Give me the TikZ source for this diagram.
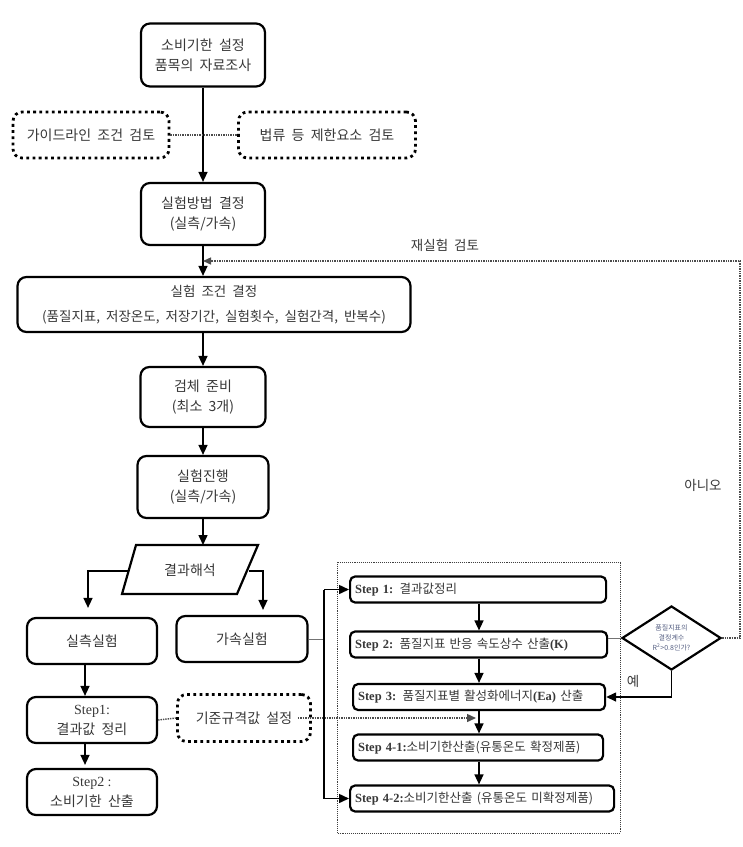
\documentclass[tikz,border=0pt]{standalone}
\usepackage{fontspec}
\setmainfont[WordSpace=2]{Noto Sans CJK KR}
\newfontfamily\latin{Liberation Serif}
\usetikzlibrary{arrows.meta,shapes.geometric,positioning}

\definecolor{txt}{RGB}{55,55,55}
\definecolor{diatxt}{RGB}{85,95,130}

\tikzset{
  box/.style={draw, line width=2.2pt, rounded corners=9pt, align=center, inner sep=0pt,
    text=txt, font=\fontsize{14}{20}\selectfont},
  notebox/.style={draw, line width=2.8pt, dash pattern=on 2.8pt off 3.4pt, rounded corners=9pt,
    inner sep=0pt, text=txt, font=\fontsize{14}{20}\selectfont},
  stepbox/.style={draw, line width=2.2pt, rounded corners=5pt, anchor=west, align=left,
    inner xsep=5pt, inner ysep=0pt, minimum height=26pt, text=txt, font=\fontsize{12.5}{14}\selectfont},
  lbl/.style={text=txt, font=\fontsize{13.5}{16}\selectfont},
  arr/.style={-{Triangle[length=10pt,width=9pt]}, line width=1.5pt},
  thinline/.style={line width=0.8pt, black!55},
  dots/.style={densely dotted, line width=1.4pt, black!70},
}

\begin{document}
\begin{tikzpicture}[x=1pt,y=-1pt]
\useasboundingbox (0,0) rectangle (743,847);

% main column
\node[box, minimum width=124pt, minimum height=63pt] (survey) at (203,55) {소비기한 설정\\품목의 자료조사};
\node[notebox, minimum width=156pt, minimum height=46pt] (guide) at (91,135) {가이드라인 조건 검토};
\node[notebox, minimum width=177pt, minimum height=46pt] (law) at (327,135) {법류 등 제한요소 검토};
\node[box, minimum width=124pt, minimum height=62pt] (method) at (203,214) {실험방법 결정\\(실측/가속)};
\node[box, minimum width=393pt, minimum height=55pt, font=\fontsize{13.5}{25}\selectfont] (cond) at (214,304.5)
  {실험 조건 결정\\(품질지표, 저장온도, 저장기간, 실험횟수, 실험간격, 반복수)};
\node[box, minimum width=125pt, minimum height=60pt] (sample) at (203,397) {검체 준비\\(최소 3개)};
\node[box, minimum width=131pt, minimum height=62pt] (run) at (203,487) {실험진행\\(실측/가속)};

% result analysis (parallelogram)
\draw[line width=2.2pt, line join=miter] (136,545) -- (258,545) -- (237,594) -- (122,594) -- cycle;
\node[lbl, font=\fontsize{14}{16}\selectfont] (result) at (190,570) {결과해석};
\coordinate (resT) at (203,545);
\coordinate (resL) at (128,571);
\coordinate (resR) at (249,571);

% left branch
\node[box, minimum width=130pt, minimum height=46pt] (real) at (92,641) {실측실험};
\node[box, minimum width=131pt, minimum height=46pt] (accel) at (242,639) {가속실험};
\node[box, minimum width=130pt, minimum height=46pt] (step1) at (92,720) {{\latin Step1:}\\결과값 정리};
\node[box, minimum width=130pt, minimum height=46pt] (step2) at (92,792) {{\latin Step2 :}\\소비기한 산출};
\node[notebox, minimum width=133pt, minimum height=47pt] (stdval) at (244,718) {기준규격값 설정};

% accelerated steps
\draw[densely dotted, line width=0.9pt, black!75] (337,562) rectangle (620,833);
\node[stepbox, text width=246pt] (s1) at (349,589.5) {{\latin\bfseries Step 1:} 결과값정리};
\node[stepbox, text width=247pt] (s2) at (349,644.5) {{\latin\bfseries Step 2:} 품질지표 반응 속도상수 산출{\latin\bfseries (K)}};
\node[stepbox, text width=242pt] (s3) at (352,697) {{\latin\bfseries Step 3:} 품질지표별 활성화에너지{\latin\bfseries (Ea)} 산출};
\node[stepbox, text width=240pt] (s41) at (352,747.5) {{\latin\bfseries Step 4-1:}소비기한산출(유통온도 확정제품)};
\node[stepbox, text width=254pt] (s42) at (349,798.5) {{\latin\bfseries Step 4-2:}소비기한산출 (유통온도 미확정제품)};

\node[draw, diamond, line width=2.2pt, inner sep=0pt, minimum width=99pt, minimum height=64pt, align=center,
  text=diatxt, font=\fontsize{7}{10}\selectfont] (check) at (671.5,638) {품질지표의\\결정계수\\R\textsuperscript{2}>0.8인가?};

\node[lbl] (yes) at (633,681) {예};
\node[lbl] (no) at (703,485) {아니오};
\node[lbl] (retrylbl) at (445,245) {재실험 검토};

\coordinate (retry) at (203,261);
\coordinate (turn) at (740,0);
\coordinate (bus) at (324,0);
\coordinate (col) at (479,0);

% connectors
\draw[arr] (survey.south) -- (survey.south |- method.north);
\draw[dots] (guide) -- (law);
\draw[arr] (method.south) -- (method.south |- cond.north);
\draw[arr] (sample.north |- cond.south) -- (sample.north);
\draw[arr] (sample.south) -- (run.north);
\draw[arr] (run.south) -- (resT);
\draw[arr] (resL) -| ([xshift=-4pt,yshift=9pt]real.north);
\draw[arr] (resR) -| ([xshift=21pt,yshift=5pt]accel.north);
\draw[arr] ([xshift=-7pt]real.south) -- ([xshift=-7pt]step1.north);
\draw[arr] ([xshift=-7pt]step1.south) -- ([xshift=-7pt,yshift=3pt]step2.north);
\draw[dots] (step1.east) -- (stdval.west);
\draw[dots, -{Triangle[length=9pt,width=8pt]}] ([xshift=-14pt]stdval.east) -- ([xshift=-3pt]col |- stdval.east);

\draw[thinline] (accel.east) -- (accel.east -| bus);
\draw[line width=1.5pt] (s1.west -| bus) -- (s42.west -| bus);
\draw[arr] (s1.west -| bus) -- (s1.west);
\draw[arr] (s42.west -| bus) -- (s42.west);
\foreach \a/\b in {s1/s2, s2/s3, s3/s41, s41/s42}
  \draw[arr] (\a.south -| col) -- (\b.north -| col);

\draw[thinline] (check.west) -- (check.west -| s2.east);
\draw[arr] (check.south) |- (s3.east);
\draw[dots, -{Triangle[length=8pt,width=7pt]}] (check.east) -- (check.east -| turn) -- (turn |- retry) -- (retry);

\end{tikzpicture}
\end{document}
